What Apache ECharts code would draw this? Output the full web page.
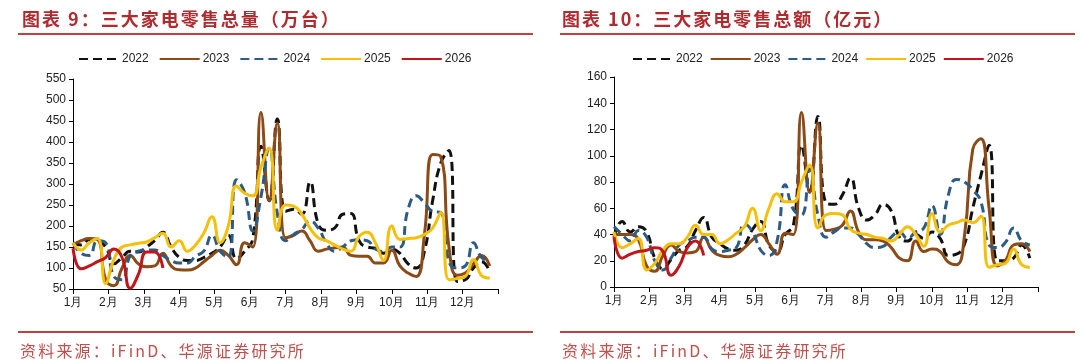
<!DOCTYPE html>
<html><head><meta charset="utf-8">
<script src="https://cdn.jsdelivr.net/npm/echarts@6/dist/echarts.min.js"></script>
<style>
html,body{margin:0;padding:0;background:#fff}
#wrap{position:relative;width:1080px;height:363px}
#c{position:absolute;left:0;top:0;width:1080px;height:363px}
.t{position:absolute;font-family:"Noto Sans CJK SC";white-space:nowrap;line-height:1}
.title{top:9px;font-size:18px;font-weight:bold;color:#B02A2E;letter-spacing:2px}
.src{top:342px;font-size:16px;color:#C0504D;letter-spacing:2.2px}
</style>
</head><body><div id="wrap"><div id="c"></div>
<div class="t title" style="left:22px">图表 9：三大家电零售总量（万台）</div>
<div class="t title" style="left:562px">图表 10：三大家电零售总额（亿元）</div>
<div class="t src" style="left:20px">资料来源：iFinD、华源证券研究所</div>
<div class="t src" style="left:562px">资料来源：iFinD、华源证券研究所</div>
</div><script>
// Weekly data, 52 weeks per year
var years = ['2022','2023','2024','2025','2026'];
var monthLabels = ['1月','2月','3月','4月','5月','6月','7月','8月','9月','10月','11月','12月'];

// 三大家电零售总量（万台）
var vol2022 = [160,155,168,165,150,110,125,140,138,150,165,185,150,125,118,118,125,135,150,178,122,140,170,390,260,455,235,240,228,305,205,190,195,228,230,165,150,147,135,145,135,110,100,140,260,350,380,68,72,100,115,90];
var vol2023 = [155,165,170,168,72,58,100,130,110,103,105,135,105,96,95,100,115,130,142,130,108,160,150,470,260,445,172,178,188,165,140,145,148,150,130,128,128,112,112,142,105,88,80,180,370,365,150,83,88,110,130,105];
var vol2024 = [160,135,130,165,160,80,72,130,140,143,143,130,118,112,112,128,140,178,140,125,310,280,188,270,385,230,165,180,192,212,195,160,140,150,165,167,165,145,139,150,150,240,272,255,235,232,115,100,105,160,125,118];
var vol2025 = [160,143,160,170,63,120,150,155,159,162,172,183,150,165,140,155,183,222,160,200,295,278,272,340,385,190,250,247,228,195,172,165,155,145,140,175,185,160,118,200,168,170,172,180,195,232,72,75,80,120,82,76];
var vol2026 = [147,98,105,115,125,145,125,52,85,138,138,100];

// 三大家电零售总额（亿元）
var amt2022 = [38,50,42,46,42,22,14,21,28,31,43,53,38,33,29,28,32,44,50,32,27,40,47,108,73,130,64,63,70,83,60,51,55,63,58,38,35,40,37,42,37,24,25,33,60,85,108,20,20,22,32,22];
var amt2023 = [40,40,40,36,16,12,24,32,27,26,27,38,28,24,23,25,30,36,40,33,25,41,40,133,72,125,43,44,47,58,42,36,36,35,30,22,20,35,27,29,27,19,17,40,105,113,60,16,20,32,33,27];
var amt2024 = [46,40,35,43,38,20,13,22,32,35,38,38,29,27,28,30,48,42,28,24,35,78,59,55,90,55,38,42,45,45,40,33,30,31,38,42,37,42,45,62,40,70,82,80,74,65,32,30,34,45,35,32];
var amt2025 = [42,30,33,37,13,18,28,33,33,38,47,40,40,33,36,41,46,60,43,60,71,65,65,80,93,45,55,56,55,44,41,40,38,37,35,40,46,40,31,56,42,47,49,51,49,54,15,17,18,29,17,15];
var amt2026 = [38,22,25,27,28,30,27,9,16,30,35,24];

var colors = {'2022':'#111111','2023':'#8B4A16','2024':'#2C5B84','2025':'#F5BF0A','2026':'#C0151B'};
var dashed = {'2022':true,'2024':true};
var volData = {'2022':vol2022,'2023':vol2023,'2024':vol2024,'2025':vol2025,'2026':vol2026};
var amtData = {'2022':amt2022,'2023':amt2023,'2024':amt2024,'2025':amt2025,'2026':amt2026};

function toXY(arr){ return arr.map(function(v,i){ return [i*12/52, v]; }); }
function mk(name, arr, idx){
  return {
    name: name, type:'line', xAxisIndex: idx, yAxisIndex: idx,
    data: toXY(arr), smooth: 0.5, symbol:'none', showSymbol:false,
    lineStyle:{ color: colors[name], width: 3, type: dashed[name]?[9,5]:'solid' },
    itemStyle:{ color: colors[name] }
  };
}
var series = [];
years.forEach(function(y){ series.push(mk(y, volData[y], 0)); });
years.forEach(function(y){ series.push(mk(y, amtData[y], 1)); });

function xAx(idx){
  return { type:'value', gridIndex: idx, min:0, max:12, interval:1,
    axisLine:{show:true, onZero:false, lineStyle:{color:'#000', width:1}},
    axisTick:{show:true, inside:false, length:5, lineStyle:{color:'#000'}},
    axisLabel:{ color:'#222', fontSize:12, margin:8, fontFamily:'Liberation Sans, Arial',
      formatter:function(v){ return v<12 ? monthLabels[v] : ''; } },
    splitLine:{show:false} };
}
function yAx(idx, min, max, itv){
  return { type:'value', gridIndex: idx, min:min, max:max, interval:itv,
    axisLine:{show:true, lineStyle:{color:'#000', width:1}},
    axisTick:{show:true, inside:false, length:4, lineStyle:{color:'#000'}},
    axisLabel:{ color:'#222', fontSize:12, margin:7, fontFamily:'Liberation Sans, Arial' },
    splitLine:{show:false} };
}

var legendCommon = {top:48, itemWidth:40, itemHeight:10, data:years,
  itemStyle:{color:'rgba(0,0,0,0)', borderColor:'rgba(0,0,0,0)', borderWidth:0},
  textStyle:{fontSize:12, color:'#222', fontFamily:'Liberation Sans, Arial', padding:[0,0,0,-2]}};
var option = {
  animation:false,
  backgroundColor:'#fff',
  grid:[{left:73, top:79, width:425, height:210}, {left:614, top:77, width:424, height:210}],
  xAxis:[xAx(0), xAx(1)],
  yAxis:[yAx(0,50,550,50), yAx(1,0,160,20)],
  legend:[
    Object.assign({left:73, itemGap:10}, legendCommon),
    Object.assign({left:627, itemGap:7}, legendCommon)
  ],
  graphic:[
    {type:'line', shape:{x1:18, y1:34, x2:533, y2:34}, style:{stroke:'#C2403E', lineWidth:2}},
    {type:'line', shape:{x1:560, y1:34, x2:1075, y2:34}, style:{stroke:'#C2403E', lineWidth:2}},
    {type:'line', shape:{x1:18, y1:332, x2:533, y2:332}, style:{stroke:'#C2403E', lineWidth:2}},
    {type:'line', shape:{x1:560, y1:332, x2:1075, y2:332}, style:{stroke:'#C2403E', lineWidth:2}}
  ],
  series: series
};
var chart = echarts.init(document.getElementById('c'), null, {renderer:'canvas'});
chart.setOption(option);
</script></body></html>
